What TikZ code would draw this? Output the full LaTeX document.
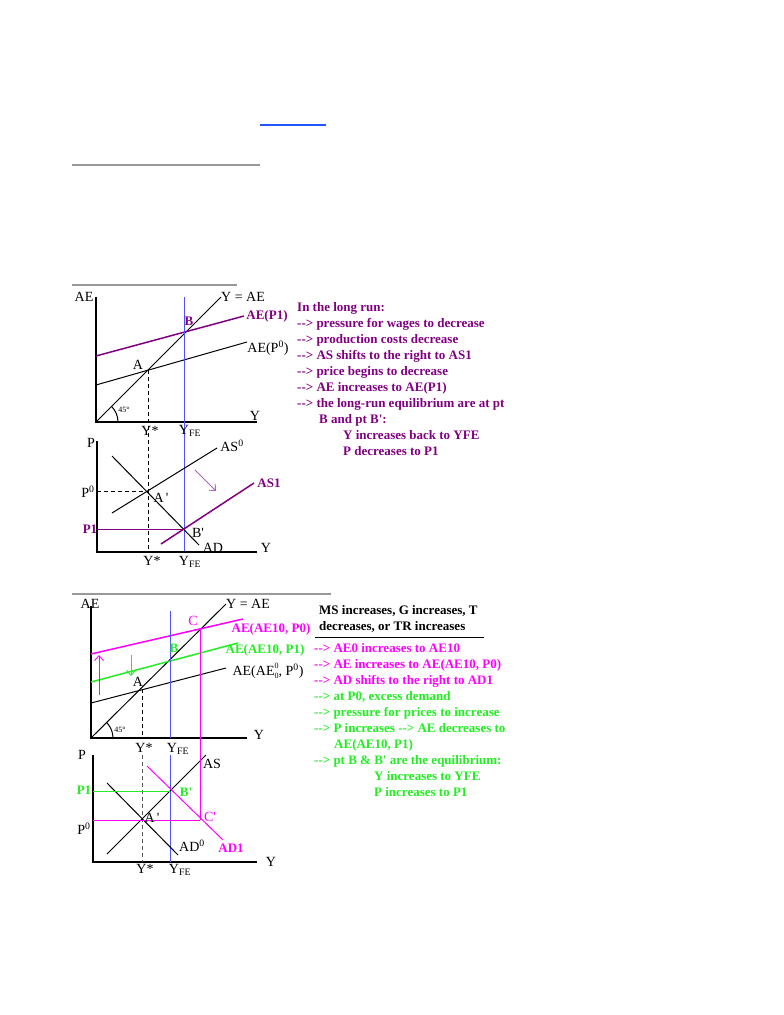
\documentclass[tikz,border=0pt]{standalone}
\usepackage{fontspec}
\setmainfont{Liberation Serif}
\usetikzlibrary{arrows.meta, positioning}
\definecolor{lrpurple}{HTML}{800080}
\definecolor{lrlilac}{HTML}{B060C0}
\definecolor{lrblue}{HTML}{5050FF}
\definecolor{lrmag}{HTML}{FF00FF}
\definecolor{lrgreen}{HTML}{22EE22}
\definecolor{linkblue}{HTML}{2255FF}
\definecolor{hrgray}{HTML}{999999}
\newcommand{\arrw}{-{}->}
\newcommand{\prm}{\textquotesingle}
\newcommand{\supsub}[2]{\rlap{\raisebox{6.5pt}{\fontsize{8}{8}\selectfont #1}}\raisebox{-3pt}{\fontsize{8}{8}\selectfont #2}}

\begin{document}
\begin{tikzpicture}[x=1pt, y=-1pt,
    axis/.style={line width=1.2pt},
    curve/.style={line width=1pt},
    thickcurve/.style={line width=1.5pt},
    guide/.style={line width=0.8pt, dash pattern=on 4pt off 3pt},
    lbl/.style={inner sep=0pt, font=\fontsize{14}{16}\selectfont},
    blbl/.style={inner sep=0pt, font=\bfseries\fontsize{13}{16}\selectfont},
    deg/.style={inner sep=0pt, font=\fontsize{8}{9}\selectfont},
    note/.style={align=left, anchor=north west, inner sep=0pt, font=\bfseries\fontsize{13}{16}\selectfont},
    arr/.style={-{Straight Barb[length=5pt, width=9pt]}, line width=0.9pt}
  ]
  \useasboundingbox (0,0) rectangle (784,1015);

  \draw[line width=2pt, linkblue] (260,125) -- (326,125);
  \draw[line width=1.2pt, hrgray] (72,165) -- (260,165);
  \draw[line width=1.2pt, hrgray] (72,285) -- (237,285);
  \draw[line width=1.2pt, hrgray] (72,594) -- (331,594);

  % long run, AE diagram
  \coordinate (oA) at (96,422);
  \coordinate (aeTop) at (96,297);
  \coordinate (yEnd) at (257,422);
  \coordinate (diagEnd) at (221,297);
  \coordinate (aePzS) at (96,385);
  \coordinate (aePzE) at (247,342);
  \coordinate (aePoS) at (96,356);
  \coordinate (aePoE) at (244,316);
  \coordinate (ptA) at (148,370);
  \coordinate (ptB) at (184,333);
  \coordinate (feTop) at (184,297);
  \coordinate (feBot) at (184,552);
  \coordinate (ysBot) at (148,552);
  \draw[axis] (aeTop) -- (oA) -- (yEnd);
  \draw[curve] (oA) -- (diagEnd);
  \draw[curve] (aePzS) -- (aePzE);
  \draw[thickcurve, lrpurple] (aePoS) -- (aePoE);
  \draw[curve, lrblue] (feTop) -- (feBot);
  \draw[guide] (ptA) -- (ysBot);
  \draw[curve] (oA) ++(22,0) arc[start angle=0, end angle=-45, radius=22];
  \node[lbl] (aeLbl) at (84,297) {AE};
  \node[lbl] (yaeLbl) at (243,297) {Y = AE};
  \node[blbl, lrpurple] (aePoLbl) at (267,316) {AE(P1)};
  \node[lbl] (aePzLbl) at (268,348) {AE(P\textsuperscript{0})};
  \node[blbl, lrpurple] (bLbl) at (189,321) {B};
  \node[lbl] (aLbl) at (138,365) {A};
  \node[deg] (degLbl) at (124,410) {45°};
  \node[lbl] (yLbl) at (255,416) {Y};
  \node[lbl] (ysLbl) at (150,431) {Y*};
  \node[lbl] (feLbl) at (190,431) {Y\textsubscript{FE}};

  % long run, AS-AD diagram
  \coordinate (oP) at (97,552);
  \coordinate (pTop) at (97,441);
  \coordinate (pyEnd) at (257,552);
  \coordinate (asS) at (112,513);
  \coordinate (asE) at (217,448);
  \coordinate (adS) at (112,456);
  \coordinate (adE) at (199,545);
  \coordinate (asoS) at (161,544);
  \coordinate (asoE) at (254,483);
  \coordinate (ptAp) at (148,491);
  \coordinate (ptBp) at (184,529);
  \coordinate (pzAx) at (97,491);
  \coordinate (poAx) at (97,529);
  \coordinate (shiftS) at (195,470);
  \coordinate (shiftE) at (216,491);
  \draw[axis] (pTop) -- (oP) -- (pyEnd);
  \draw[curve] (asS) -- (asE);
  \draw[curve] (adS) -- (adE);
  \draw[thickcurve, lrpurple] (asoS) -- (asoE);
  \draw[guide] (pzAx) -- (ptAp);
  \draw[line width=0.8pt, lrpurple] (poAx) -- (ptBp);
  \draw[arr, lrlilac] (shiftS) -- (shiftE);
  \node[lbl] (pLbl) at (91,443) {P};
  \node[lbl] (asLbl) at (232,446) {AS\textsuperscript{0}};
  \node[lbl] (apLbl) at (161,498) {A\,\prm};
  \node[lbl] (pzLbl) at (88,492) {P\textsuperscript{0}};
  \node[blbl, lrpurple] (asoLbl) at (269,483) {AS1};
  \node[blbl, lrpurple] (poLbl) at (90,529) {P1};
  \node[lbl] (bpLbl) at (198,533) {B\prm};
  \node[lbl] (adLbl) at (213,548) {AD};
  \node[lbl] (pyLbl) at (266,548) {Y};
  \node[lbl] (pysLbl) at (152,561) {Y*};
  \node[lbl] (pfeLbl) at (190,562) {Y\textsubscript{FE}};

  \node[note, lrpurple] (longRun) at (297,302) {In the long run:\\
    \arrw{} pressure for wages to decrease\\
    \arrw{} production costs decrease\\
    \arrw{} AS shifts to the right to AS1\\
    \arrw{} price begins to decrease\\
    \arrw{} AE increases to AE(P1)\\
    \arrw{} the long-run equilibrium are at pt\\
    \hspace*{22pt}B and pt B\prm:\\
    \hspace*{46pt}Y increases back to YFE\\
    \hspace*{46pt}P decreases to P1};

  % demand shock, AE diagram
  \coordinate (oC) at (91,738);
  \coordinate (cTop) at (91,606);
  \coordinate (cyEnd) at (247,738);
  \coordinate (cdEnd) at (226,604);
  \coordinate (cBlkS) at (91,703);
  \coordinate (cBlkE) at (226,668);
  \coordinate (cGrnS) at (91,682);
  \coordinate (cGrnE) at (238,643);
  \coordinate (cMagS) at (91,654);
  \coordinate (cMagE) at (243,619);
  \coordinate (cfeTop) at (170,611);
  \coordinate (cfeBot) at (170,738);
  \coordinate (cA) at (142,689);
  \coordinate (cysBot) at (142,738);
  \coordinate (cC) at (200,629);
  \coordinate (upS) at (99,695);
  \coordinate (upE) at (99,655);
  \coordinate (dnS) at (131,655);
  \coordinate (dnE) at (131,676);
  \draw[axis] (cTop) -- (oC) -- (cyEnd);
  \draw[curve] (oC) -- (cdEnd);
  \draw[curve] (cBlkS) -- (cBlkE);
  \draw[thickcurve, lrgreen] (cGrnS) -- (cGrnE);
  \draw[thickcurve, lrmag] (cMagS) -- (cMagE);
  \draw[curve, lrblue] (cfeTop) -- (cfeBot);
  \draw[guide] (cA) -- (cysBot);
  \draw[arr, lrmag] (upS) -- (upE);
  \draw[arr, lrgreen] (dnS) -- (dnE);
  \draw[curve] (oC) ++(22,0) arc[start angle=0, end angle=-45, radius=22];
  \node[lbl] (caeLbl) at (90,604) {AE};
  \node[lbl] (cyaeLbl) at (248,604) {Y = AE};
  \node[lbl, lrmag] (cLbl) at (193,621) {C};
  \node[blbl, lrmag] (cMagLbl) at (271,629) {AE(AE10, P0)};
  \node[blbl, lrgreen] (cbLbl) at (174,648) {B};
  \node[blbl, lrgreen] (cGrnLbl) at (265,650) {AE(AE10, P1)};
  \node[lbl] (cBlkLbl) at (268,671) {AE(AE\supsub{0}{0}, P\textsuperscript{0})};
  \node[lbl] (caLbl) at (138,682) {A};
  \node[deg] (cdegLbl) at (120,730) {45°};
  \node[lbl] (cyLbl) at (259,735) {Y};
  \node[lbl] (cysLbl) at (144,748) {Y*};
  \node[lbl] (cfeLbl) at (178,749) {Y\textsubscript{FE}};

  % demand shock, AS-AD diagram
  \coordinate (oD) at (93,862);
  \coordinate (dTop) at (93,755);
  \coordinate (dyEnd) at (257,862);
  \coordinate (dAsS) at (107,854);
  \coordinate (dAsE) at (206,755);
  \coordinate (dAdS) at (107,783);
  \coordinate (dAdE) at (178,855);
  \coordinate (dAdoS) at (147,766);
  \coordinate (dAdoE) at (223,840);
  \coordinate (dBp) at (170,791);
  \coordinate (dCp) at (200,820);
  \coordinate (dpoAx) at (93,791);
  \coordinate (dpzAx) at (93,820);
  \coordinate (dfeTop) at (170,755);
  \coordinate (dfeBot) at (170,862);
  \coordinate (dysTop) at (142,755);
  \coordinate (dysBot) at (142,862);
  \draw[axis] (dTop) -- (oD) -- (dyEnd);
  \draw[curve, lrblue] (dfeTop) -- (dfeBot);
  \draw[guide, black!65] (dysTop) -- (dysBot);
  \draw[curve] (dAsS) -- (dAsE);
  \draw[curve] (dAdS) -- (dAdE);
  \draw[curve, lrmag] (dAdoS) -- (dAdoE);
  \draw[curve, lrgreen] (dpoAx) -- (dBp);
  \draw[curve, lrmag] (dpzAx) -- (dCp);
  \draw[curve, lrmag] (cC) -- (dCp);
  \node[lbl] (dpLbl) at (82,755) {P};
  \node[lbl] (dasLbl) at (212,764) {AS};
  \node[blbl, lrgreen] (dpoLbl) at (84,790) {P1};
  \node[blbl, lrgreen] (dbpLbl) at (186,792) {B\prm};
  \node[lbl] (dapLbl) at (152,818) {A\,\prm};
  \node[lbl, lrmag] (dcpLbl) at (210,817) {C\prm};
  \node[lbl] (dpzLbl) at (84,829) {P\textsuperscript{0}};
  \node[lbl] (dadLbl) at (192,846) {AD\textsuperscript{0}};
  \node[blbl, lrmag] (dadoLbl) at (231,848) {AD1};
  \node[lbl] (dyLbl) at (271,862) {Y};
  \node[lbl] (dysLbl) at (145,869) {Y*};
  \node[lbl] (dfeLbl) at (180,870) {Y\textsubscript{FE}};

  \node[note] (shockHead) at (319,605) {MS increases, G increases, T\\
    decreases, or TR increases};
  \draw[line width=1pt] (315,637) -- (484,637);
  \node[note] (shockBody) at (314,643) {\textcolor{lrmag}{\arrw{} AE0 increases to AE10}\\
    \textcolor{lrmag}{\arrw{} AE increases to AE(AE10, P0)}\\
    \textcolor{lrmag}{\arrw{} AD shifts to the right to AD1}\\
    \textcolor{lrgreen}{\arrw{} at P0, excess demand}\\
    \textcolor{lrgreen}{\arrw{} pressure for prices to increase}\\
    \textcolor{lrgreen}{\arrw{} P increases \arrw{} AE decreases to}\\
    \hspace*{20pt}\textcolor{lrgreen}{AE(AE10, P1)}\\
    \textcolor{lrgreen}{\arrw{} pt B \& B\prm{} are the equilibrium:}\\
    \hspace*{60pt}\textcolor{lrgreen}{Y increases to YFE}\\
    \hspace*{60pt}\textcolor{lrgreen}{P increases to P1}};
\end{tikzpicture}
\end{document}
